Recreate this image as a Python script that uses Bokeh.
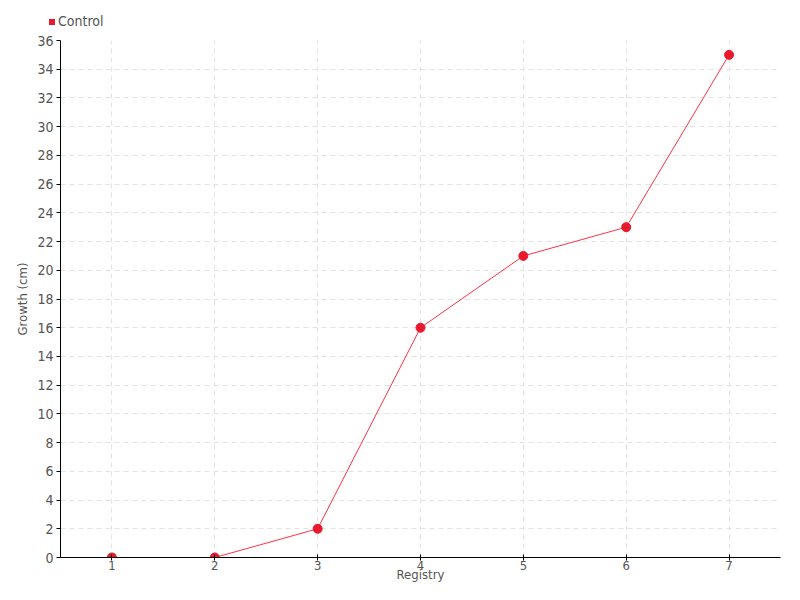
from bokeh.plotting import figure
from bokeh.layouts import column
from bokeh.models import FixedTicker, Range1d, Div
from bokeh.embed import file_html
from bokeh.resources import INLINE

registry = [1, 2, 3, 4, 5, 6, 7]
growth = [0, 0, 2, 16, 21, 23, 35]
y_ticks = list(range(0, 37, 2))
series_name = "Control"

FONT = "DejaVu Sans Condensed"
TXT = "#555555"
RED = "#e8192c"
LINE = "#ff3344"
W = 784

legend_html = (
    '<div style="position:relative;width:%dpx;height:30px;">'
    '<span style="position:absolute;left:49px;top:19px;width:6px;height:6px;background:%s;"></span>'
    '<span style="position:absolute;left:58px;top:13px;font-family:\'%s\';font-size:14px;'
    'line-height:16px;color:%s;">%s</span></div>'
) % (W, RED, FONT, TXT, series_name)
legend_div = Div(text=legend_html, width=W, height=30, margin=0)

p = figure(width=W, height=554, output_backend="svg", toolbar_location=None,
           x_range=Range1d(0.5, 7.5), y_range=Range1d(0, 36),
           min_border_left=60, min_border_right=4, min_border_top=10, min_border_bottom=20)
p.outline_line_color = None
p.background_fill_color = "white"

p.line(registry, growth, line_color=LINE, line_width=1)
p.scatter(registry, growth, size=9, fill_color=RED, line_color=RED)

p.xaxis.ticker = FixedTicker(ticks=registry)
p.yaxis.ticker = FixedTicker(ticks=y_ticks)
p.xaxis.axis_label = "Registry"
p.yaxis.axis_label = "Growth (cm)"
for ax in (p.xaxis, p.yaxis):
    ax.axis_line_color = "black"
    ax.major_tick_line_color = "black"
    ax.minor_tick_line_color = None
    ax.major_label_text_font = FONT
    ax.major_label_text_font_size = "14px"
    ax.major_label_text_color = TXT
    ax.axis_label_text_font = FONT
    ax.axis_label_text_font_size = "13px"
    ax.axis_label_text_font_style = "normal"
    ax.axis_label_text_color = TXT
p.xaxis.major_label_text_font_size = "13px"
p.xaxis.axis_label_text_font_size = "13px"
p.yaxis.major_tick_in = 0
p.yaxis.major_tick_out = 4
p.xaxis.major_tick_in = 3
p.xaxis.major_tick_out = 3
p.xaxis.axis_label_standoff = -6
p.yaxis.axis_label_standoff = 4
p.xaxis.major_label_standoff = 0
p.yaxis.major_label_standoff = 3

for g in (p.xgrid, p.ygrid):
    g.grid_line_color = "#e3e3e3"
    g.grid_line_dash = "5 4"
    g.grid_line_width = 1

layout = column(legend_div, p, spacing=0)
open("out.html", "w").write(file_html(layout, INLINE))
